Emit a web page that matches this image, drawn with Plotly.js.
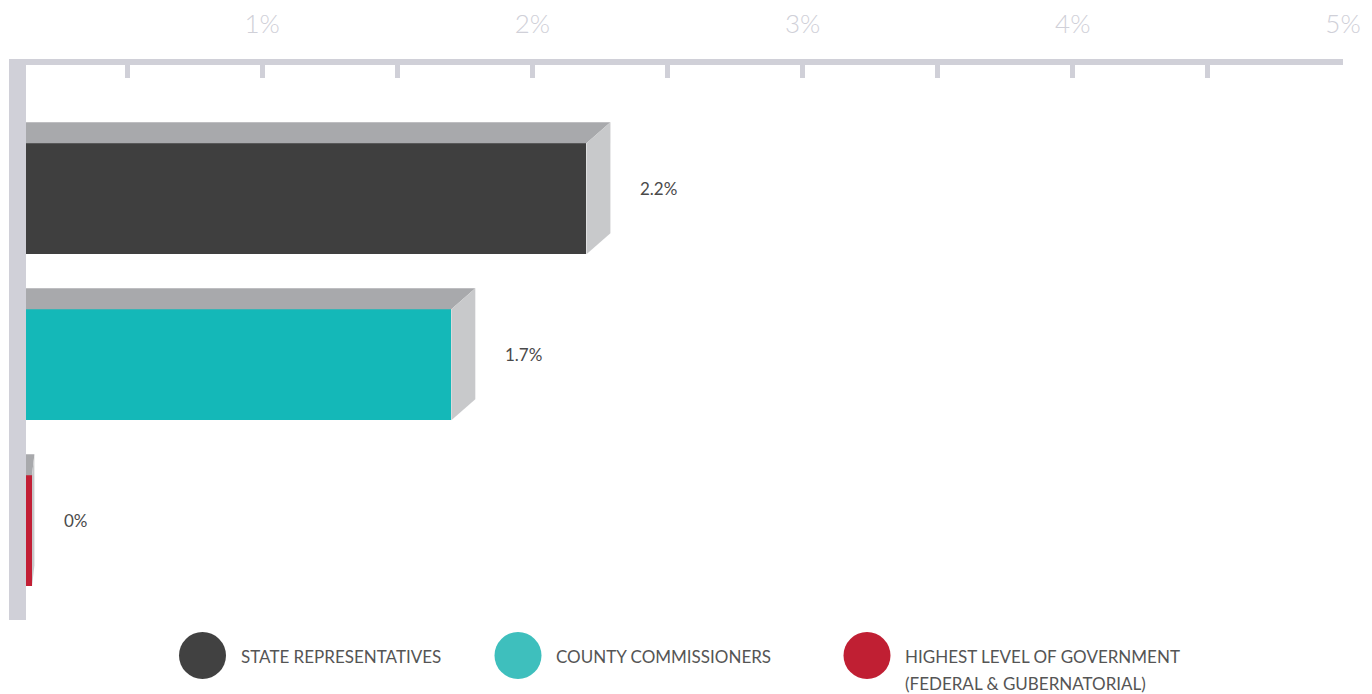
<!DOCTYPE html>
<html>
<head>
<meta charset="utf-8">
<script src="https://cdn.plot.ly/plotly-3.0.1.min.js"></script>
<style>
  html, body { margin: 0; padding: 0; background: #ffffff; }
  #chart { width: 1372px; height: 694px; }
</style>
</head>
<body>
<div id="chart"></div>
<script>
// ---------------- data ----------------
const categories = [
  "STATE REPRESENTATIVES",
  "COUNTY COMMISSIONERS",
  "HIGHEST LEVEL OF GOVERNMENT<br>(FEDERAL & GUBERNATORIAL)"
];
const values = [2.2, 1.7, 0];           // percent
const tickValues = [0.5, 1, 1.5, 2, 2.5, 3, 3.5, 4, 4.5, 5];
const tickLabels = ["", "1%", "", "2%", "", "3%", "", "4%", "", "5%"];

// ---------------- style ----------------
const barColors    = ["#3f3f3f", "#14b8b8", "#c21f35"];
const legendColors = ["#414141", "#3ebfbd", "#c01f33"];
const topFaceColor  = "#a8a9ac";
const sideFaceColor = "#c8c9cb";
const frameColor    = "#d0d0d8";
const FONT = "Lato, 'Open Sans', 'DejaVu Sans', sans-serif";

const W = 1372, H = 694;
const M = { l: 26, r: 29, t: 65, b: 74 };
const plotW = W - M.l - M.r, plotH = H - M.t - M.b;
const barWidth = 0.669;      // category units
const depthX = 24, depthY = 21, minStubPx = 6;
const labelGap = 28;
const legendCenters = [202.5, 518, 867];   // px
const legendCenterY = 655.5;               // px
const legendRadius = 23.5, legendTextGap = 36, legendLineH = 27;

const gd = document.getElementById("chart");

const layout = {
  width: W, height: H,
  margin: M,
  paper_bgcolor: "#ffffff",
  plot_bgcolor: "#ffffff",
  showlegend: false,
  bargap: 0,
  xaxis: {
    side: "top",
    range: [0.126, 5],
    showline: true, linecolor: frameColor, linewidth: 6,
    ticks: "inside", ticklen: 13, tickwidth: 5, tickcolor: frameColor,
    tickmode: "array", tickvals: tickValues, ticktext: tickLabels,
    tickfont: { family: FONT, size: 26, color: "#d0d0d8", weight: 300 },
    ticklabelstandoff: 16,
    showgrid: false, zeroline: false, fixedrange: true
  },
  yaxis: {
    type: "category",
    categoryorder: "array", categoryarray: categories,
    range: [2.537, -0.806],
    showline: true, linecolor: frameColor, linewidth: 17,
    showticklabels: false, ticks: "",
    showgrid: false, zeroline: false, fixedrange: true
  },
  shapes: [],
  annotations: []
};

function buildTrace(dispValues) {
  return [{
    type: "bar",
    orientation: "h",
    y: categories,
    x: dispValues,
    width: barWidth,
    marker: { color: barColors, line: { width: 0 } },
    hoverinfo: "skip"
  }];
}

Plotly.newPlot(gd, buildTrace(values), layout, { displayModeBar: false, staticPlot: true }).then(() => {
  const xa = gd._fullLayout.xaxis, ya = gd._fullLayout.yaxis;
  // minimal visible stub so a 0% bar still shows
  const stubVal = xa.p2l(minStubPx);
  const dispValues = values.map(v => Math.max(v, stubVal));

  const shapes = [], annotations = [];
  const P = (px, py) => xa.p2l(px) + "," + ya.p2l(py);
  const px2paperX = px => (px - M.l) / plotW;
  const px2paperY = py => (M.t + plotH - py) / plotH;

  categories.forEach((cat, i) => {
    const xF = xa.l2p(dispValues[i]);
    const xL = -12;
    const yT = ya.l2p(i - barWidth / 2);
    const yB = ya.l2p(i + barWidth / 2);
    const dx = Math.min(depthX, 0.4 * xF);
    const dy = depthY;

    // top face
    shapes.push({
      type: "path", xref: "x", yref: "y", layer: "above",
      path: "M" + P(xL, yT) + " L" + P(xF, yT) + " L" + P(xF + dx, yT - dy) + " L" + P(xL, yT - dy) + " Z",
      fillcolor: topFaceColor, line: { width: 0 }
    });
    // side face
    shapes.push({
      type: "path", xref: "x", yref: "y", layer: "above",
      path: "M" + P(xF, yT) + " L" + P(xF + dx, yT - dy) + " L" + P(xF + dx, yB - dy) + " L" + P(xF, yB) + " Z",
      fillcolor: sideFaceColor, line: { width: 0 }
    });
    // value label
    annotations.push({
      xref: "x", yref: "y",
      x: dispValues[i], y: i,
      xanchor: "left", yanchor: "middle",
      xshift: dx + labelGap, yshift: dy / 2,
      text: String(values[i]) + "%",
      showarrow: false,
      font: { family: FONT, size: 17, color: "#4a4a4a" }
    });

    // legend
    const cx = legendCenters[i];
    shapes.push({
      type: "circle", xref: "paper", yref: "paper",
      xsizemode: "pixel", ysizemode: "pixel",
      xanchor: px2paperX(cx), yanchor: px2paperY(legendCenterY),
      x0: -legendRadius, x1: legendRadius, y0: -legendRadius, y1: legendRadius,
      fillcolor: legendColors[i], line: { width: 0 }
    });
    cat.split("<br>").forEach((line, j) => {
      annotations.push({
        xref: "paper", yref: "paper",
        x: px2paperX(cx + legendTextGap), y: px2paperY(legendCenterY + 1 + j * legendLineH),
        xanchor: "left", yanchor: "middle",
        text: line, showarrow: false,
        font: { family: FONT, size: 17, color: "#555555" }
      });
    });
  });

  return Plotly.react(gd, buildTrace(dispValues),
    Object.assign({}, layout, { shapes: shapes, annotations: annotations }),
    { displayModeBar: false, staticPlot: true });
});
</script>
</body>
</html>
